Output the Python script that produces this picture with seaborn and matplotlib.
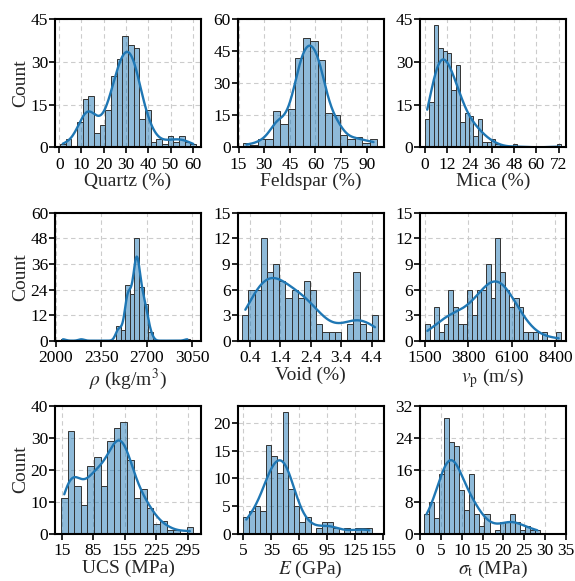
import numpy as np
import pandas as pd
import seaborn as sns
import matplotlib
matplotlib.use("Agg")
import matplotlib.pyplot as plt

# ---------------- data ----------------
quartz_start, quartz_width = 0.3, 2.55
quartz_counts = [1, 3, 0, 9, 17, 18, 5, 8, 13, 25, 31, 39, 36, 35, 10, 13, 2, 3, 1, 4, 2, 4, 2, 1]

feldspar_start, feldspar_width = 17.5, 4.37
feldspar_counts = [2, 1, 4, 4, 17, 11, 18, 42, 51, 50, 41, 16, 15, 6, 4, 5, 2, 4]

mica_start, mica_width = 0.0, 2.37
mica_counts = [10, 16, 43, 35, 34, 33, 20, 29, 9, 12, 11, 4, 10, 2, 2, 3, 1, 0, 0, 0,
               1, 0, 0, 0, 0, 0, 0, 0, 0, 0, 1]

rho_start, rho_width = 2038, 35.4
rho_counts = [1, 0, 0, 0, 1, 0, 0, 0, 0, 0, 0, 0, 7, 5, 26, 22, 48, 25, 17, 4,
              0, 0, 0, 0, 0, 0, 0, 1]

void_start, void_width = 0.156, 0.2025
void_counts = [3, 6, 6, 12, 8, 9, 7, 5, 6, 5, 7, 6, 2, 1, 1, 1, 0, 2, 8, 2, 1, 3]

vp_start, vp_width = 1500, 248.3
vp_counts = [2, 0, 4, 1, 2, 6, 4, 2, 2, 6, 3, 6, 6, 9, 5, 12, 8, 6, 4, 5, 4, 1, 1, 1,
             0, 1, 0, 0, 1]

ucs_start, ucs_width = 13.5, 14.7
ucs_counts = [11, 32, 15, 9, 21, 24, 15, 29, 33, 35, 23, 11, 14, 8, 3, 4, 1, 1, 0, 2]

e_start, e_width = 5.0, 6.0
e_counts = [3, 4, 5, 4, 16, 14, 11, 22, 8, 5, 2, 3, 0, 1, 2, 2, 1, 0, 1, 0, 1, 1, 1]

st_start, st_width = 0.97, 1.207
st_counts = [5, 8, 4, 15, 29, 23, 22, 11, 6, 15, 5, 2, 5, 0, 1, 3, 3, 5, 3, 1, 2, 1, 1]

xlabels = ["Quartz (%)", "Feldspar (%)", "Mica (%)",
           r"$\rho$ (kg/m$^3$)", "Void (%)", r"$v_\mathrm{p}$ (m/s)",
           "UCS (MPa)", r"$E$ (GPa)", r"$\sigma_\mathrm{t}$ (MPa)"]

xticks = [[0, 10, 20, 30, 40, 50, 60],
          [15, 30, 45, 60, 75, 90],
          [0, 12, 24, 36, 48, 60, 72],
          [2000, 2350, 2700, 3050],
          [0.4, 1.4, 2.4, 3.4, 4.4],
          [1500, 3800, 6100, 8400],
          [15, 85, 155, 225, 295],
          [5, 35, 65, 95, 125, 155],
          [0, 5, 10, 15, 20, 25, 30, 35]]
xticklabels = [["0", "10", "20", "30", "40", "50", "60"],
               ["15", "30", "45", "60", "75", "90"],
               ["0", "12", "24", "36", "48", "60", "72"],
               ["2000", "2350", "2700", "3050"],
               ["0.4", "1.4", "2.4", "3.4", "4.4"],
               ["1500", "3800", "6100", "8400"],
               ["15", "85", "155", "225", "295"],
               ["5", "35", "65", "95", "125", "155"],
               ["0", "5", "10", "15", "20", "25", "30", "35"]]
yticks = [[0, 15, 30, 45],
          [0, 15, 30, 45, 60],
          [0, 15, 30, 45],
          [0, 12, 24, 36, 48, 60],
          [0, 3, 6, 9, 12, 15],
          [0, 3, 6, 9, 12, 15],
          [0, 10, 20, 30, 40],
          [0, 5, 10, 15, 20],
          [0, 8, 16, 24, 32]]

panels = [
    (quartz_start, quartz_width, quartz_counts),
    (feldspar_start, feldspar_width, feldspar_counts),
    (mica_start, mica_width, mica_counts),
    (rho_start, rho_width, rho_counts),
    (void_start, void_width, void_counts),
    (vp_start, vp_width, vp_counts),
    (ucs_start, ucs_width, ucs_counts),
    (e_start, e_width, e_counts),
    (st_start, st_width, st_counts),
]

# layout / limits / smoothing (styling, not data)
xlims = [(-1.9, 63.7), (14.4, 99.8), (-2.7, 76.0),
         (1995, 3116), (0.0, 4.79), (1233, 8969),
         (0.2, 325), (-1.4, 155.2), (0.0, 35.0)]
ylims = [(0, 45), (0, 60), (0, 45), (0, 60), (0, 15), (0, 15),
         (0, 40), (0, 23.2), (0, 32)]
bw = [1.0, 1.0, 1.5, 0.7, 1.1, 1.2, 1.05, 1.0, 1.15]

# ---------------- style ----------------
sns.set_style("ticks")
plt.rcParams["font.family"] = ["Liberation Serif", "DejaVu Serif"]
plt.rcParams["mathtext.fontset"] = "stix"

W, H = 575, 581
fig = plt.figure(figsize=(W / 100, H / 100), dpi=100)

lefts = [55, 237.5, 420]
tops = [19.3, 212.7, 405.5]
aw, ah = 146, 128

for i, (start, width, counts) in enumerate(panels):
    r, c = divmod(i, 3)
    ax = fig.add_axes([lefts[c] / W, 1 - (tops[r] + ah) / H, aw / W, ah / H])
    counts = np.asarray(counts)
    edges = start + width * np.arange(len(counts) + 1)
    centers = (edges[:-1] + edges[1:]) / 2
    obs = np.repeat(centers, counts)
    df = pd.DataFrame({"v": obs})
    sns.histplot(data=df, x="v", bins=edges, kde=True, ax=ax,
                 color="#1f77b4", alpha=0.5, edgecolor="#333333",
                 linewidth=0.7, line_kws={"linewidth": 1.7},
                 kde_kws={"bw_adjust": bw[i]})
    ax.set_xlim(*xlims[i])
    ax.set_ylim(*ylims[i])
    ax.set_xticks(xticks[i])
    ax.set_xticklabels(xticklabels[i])
    ax.set_yticks(yticks[i])
    ax.set_yticklabels([str(v) for v in yticks[i]])
    ax.grid(True, linestyle=(0, (4, 3)), color="#cccccc", linewidth=0.8)
    ax.set_axisbelow(True)
    for s in ax.spines.values():
        s.set_linewidth(1.5)
        s.set_color("black")
    ax.tick_params(axis="both", direction="out", length=4, width=1.2,
                   labelsize=12.5, colors="black")
    ax.tick_params(axis="x", pad=3)
    ax.tick_params(axis="y", pad=1)
    ax.set_xlabel(xlabels[i], fontsize=14, labelpad=0)
    if c == 0:
        ax.set_ylabel("Count", fontsize=14, labelpad=1)
    else:
        ax.set_ylabel("")

fig.savefig("out.png", dpi=100)
